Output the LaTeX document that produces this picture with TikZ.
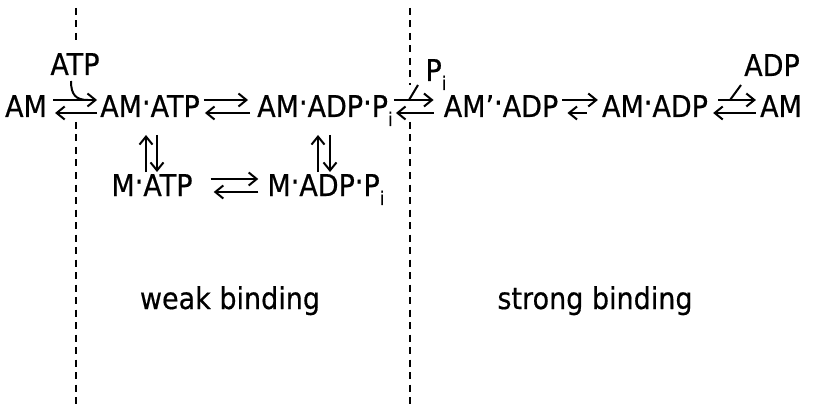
\documentclass[tikz,border=0pt]{standalone}
\usepackage{fontspec}
\setmainfont[FakeStretch=0.9,FakeBold=0.5]{DejaVu Sans}
\usetikzlibrary{arrows.meta}
\newcommand\subi{\raisebox{-0.3em}{\fontsize{19}{19}\selectfont i}}
\newcommand\cdt{\raisebox{0.13em}{·}}
\begin{document}
\begin{tikzpicture}[x=1pt,y=-1pt,
  lbl/.style={inner sep=0pt, anchor=base, font=\fontsize{30}{32}\selectfont},
  rx/.style={line width=2pt, -{Straight Barb[length=8pt,width=13pt]}},
  sepline/.style={line width=2.2pt, dash pattern=on 7pt off 5.5pt},
  tick/.style={line width=2pt}]
\useasboundingbox (0,0) rectangle (818,406);
% separators
\coordinate (s1a) at (76,8);   \coordinate (s1b) at (76,45);
\coordinate (s1c) at (76,122); \coordinate (s1d) at (76,406);
\coordinate (s2a) at (410,8);  \coordinate (s2b) at (410,85);
\coordinate (s2c) at (410,122);\coordinate (s2d) at (410,406);
\draw[sepline] (s1a) -- (s1b);
\draw[sepline] (s1c) -- (s1d);
\draw[sepline] (s2a) -- (s2b);
\draw[sepline] (s2c) -- (s2d);
% species
\node[lbl] (am1) at (26,117) {AM};
\node[lbl] (amatp) at (150,117) {AM\cdt ATP};
\node[lbl] (amadppi) at (325,117) {AM\cdt ADP\cdt P\subi};
\node[lbl] (ampadp) at (501,117) {AM’\cdt ADP};
\node[lbl] (amadp) at (655,117) {AM\cdt ADP};
\node[lbl] (am2) at (781,117) {AM};
\node[lbl] (matp) at (152,196) {M\cdt ATP};
\node[lbl] (madppi) at (326,196) {M\cdt ADP\cdt P\subi};
\node[lbl] (atp) at (75,75) {ATP};
\node[lbl] (pi) at (436,81) {P\subi};
\node[lbl] (adp) at (772,76) {ADP};
\node[lbl] (weak) at (230,309) {weak binding};
\node[lbl] (strong) at (595,309) {strong binding};
% row 1 arrows
\draw[rx] ([shift={(6,-17)}]am1.base east) -- ([shift={(-3,-17)}]amatp.base west);
\draw[rx] ([shift={(-3,-4)}]amatp.base west) -- ([shift={(8,-4)}]am1.base east);
\draw[rx] ([shift={(4,-17)}]amatp.base east) -- ([shift={(-9,-17)}]amadppi.base west);
\draw[rx] ([shift={(-7,-4)}]amadppi.base west) -- ([shift={(5,-4)}]amatp.base east);
\draw[rx] ([shift={(1,-17)}]amadppi.base east) -- ([shift={(-10,-17)}]ampadp.base west);
\draw[rx] ([shift={(-10,-4)}]ampadp.base west) -- ([shift={(3,-4)}]amadppi.base east);
\draw[rx] ([shift={(4,-17)}]ampadp.base east) -- ([shift={(-4,-17)}]amadp.base west);
\draw[rx] ([shift={(-15,-4)}]amadp.base west) -- ([shift={(9,-4)}]ampadp.base east);
\draw[rx] ([shift={(10,-17)}]amadp.base east) -- ([shift={(-4,-17)}]am2.base west);
\draw[rx] ([shift={(-4,-4)}]am2.base west) -- ([shift={(5,-4)}]amadp.base east);
% row 2 arrows
\draw[rx] ([shift={(18,-17)}]matp.base east) -- ([shift={(-9,-17)}]madppi.base west);
\draw[rx] ([shift={(-9,-4)}]madppi.base west) -- ([shift={(21,-4)}]matp.base east);
% vertical arrows
\draw[rx] ([shift={(-4,55)}]amatp.base) -- ([shift={(-4,18)}]amatp.base);
\draw[rx] ([shift={(7,18)}]amatp.base) -- ([shift={(7,55)}]amatp.base);
\draw[rx] ([shift={(-7,55)}]amadppi.base) -- ([shift={(-7,18)}]amadppi.base);
\draw[rx] ([shift={(5,18)}]amadppi.base) -- ([shift={(5,55)}]amadppi.base);
% ligand ticks
\coordinate (atpk) at (88,100);
\draw[tick] ([shift={(-4,6)}]atp.base) .. controls (71,95) and (76,100) .. (atpk);
\coordinate (pitk) at (409,100);
\draw[tick] ([shift={(-18,4)}]pi.base) -- (pitk);
\coordinate (adptk) at (730,100);
\draw[tick] ([shift={(-31,9)}]adp.base) -- (adptk);
\end{tikzpicture}
\end{document}
